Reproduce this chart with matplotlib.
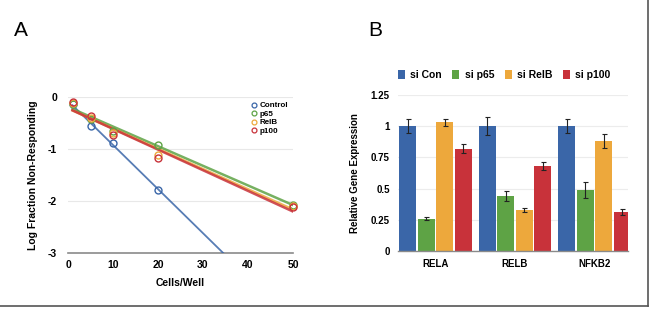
import numpy as np
import matplotlib
matplotlib.use("Agg")
import matplotlib.pyplot as plt
from matplotlib.lines import Line2D

plt.rcParams['font.family'] = ['Liberation Sans', 'DejaVu Sans']

# panel A: limiting dilution
cells = [1, 5, 10, 20, 50]
ctrl_x = [1, 5, 10, 20]
ctrl_y = [-0.14, -0.55, -0.88, -1.78]
p65_y = [-0.14, -0.42, -0.65, -0.92, -2.07]
relb_y = [-0.12, -0.40, -0.70, -1.12, -2.10]
p100_y = [-0.10, -0.37, -0.73, -1.18, -2.12]
series_a = ["Control", "p65", "RelB", "p100"]

# panel B: knockdown qPCR
genes = ["RELA", "RELB", "NFKB2"]
conds = ["si Con", "si p65", "si RelB", "si p100"]
expr = [[1.00, 1.00, 1.00],
        [0.26, 0.44, 0.49],
        [1.03, 0.33, 0.88],
        [0.82, 0.68, 0.31]]
err = [[0.055, 0.07, 0.055],
       [0.015, 0.04, 0.065],
       [0.03, 0.015, 0.055],
       [0.035, 0.03, 0.025]]

colors = ["#3a66a8", "#5ea345", "#eda83c", "#c8323a"]

fig = plt.figure(figsize=(6.57, 3.12), dpi=100)
W, H = 657, 312

def ax_at(l, t, r, b):
    return fig.add_axes([l / W, 1 - b / H, (r - l) / W, (b - t) / H])

# ---- panel A
ax = ax_at(68, 97, 293, 253)
for i, (name, ys) in enumerate(zip(series_a, [ctrl_y, p65_y, relb_y, p100_y])):
    xs = ctrl_x if i == 0 else cells
    ax.plot(xs, ys, "o", mfc="none", mec=colors[i], mew=1.0, ms=5,
            clip_on=False, zorder=4)
    k, c = np.polyfit(xs, ys, 1)
    xe = 50 if i else (-3 - c) / k
    xx = np.array([1, xe])
    ax.plot(xx, k * xx + c, color=colors[i], lw=1.8 if i else 1.3,
            alpha=0.85, zorder=3)

ax.set_xlim(0, 50)
ax.set_ylim(-3, 0)
ax.set_xticks([0, 10, 20, 30, 40, 50])
ax.set_yticks([0, -1, -2, -3])
ax.set_yticklabels(["0", "-1", "-2", "-3"])
ax.grid(axis="y", color="#e8e8e8", lw=0.8)
ax.set_axisbelow(True)
for s in ["top", "right", "left"]:
    ax.spines[s].set_visible(False)
ax.spines["bottom"].set_color("#8a8a8a")
ax.spines["bottom"].set_linewidth(1.2)
ax.tick_params(length=0, labelsize=7.5)
ax.tick_params(axis="x", pad=5)
ax.tick_params(axis="y", pad=8)
for t in ax.get_xticklabels() + ax.get_yticklabels():
    t.set_fontweight("bold")
ax.set_xlabel("Cells/Well", fontsize=7.5, fontweight="bold", labelpad=6)
ax.set_ylabel("Log Fraction Non-Responding", fontsize=7.5, fontweight="bold", labelpad=7)
handles = [Line2D([], [], ls="none", marker="o", mfc="none", mec=colors[i],
                  mew=0.9, ms=3.5) for i in range(4)]
ax.legend(handles, series_a, loc="upper right", bbox_to_anchor=(1.0, 1.0),
          frameon=False, handletextpad=0.2, labelspacing=0.1,
          borderaxespad=0.2, handlelength=1.0,
          prop={"size": 5.8, "weight": "bold"})

# ---- panel B
bx = ax_at(398, 95, 628, 251)
x = np.arange(len(genes))
step = 0.232
bw = 0.212
for i, cond in enumerate(conds):
    pos = x + (i - 1.5) * step
    bx.bar(pos, expr[i], width=bw, color=colors[i], label=cond, zorder=2)
    bx.errorbar(pos, expr[i], yerr=err[i], fmt="none", ecolor="#222222",
                elinewidth=0.8, capsize=1.8, capthick=0.8, zorder=3)
bx.set_xlim(-0.47, 2.42)
bx.set_ylim(0, 1.25)
bx.set_yticks([0, 0.25, 0.5, 0.75, 1, 1.25])
bx.set_yticklabels(["0", "0.25", "0.5", "0.75", "1", "1.25"])
bx.set_xticks(x)
bx.set_xticklabels(genes)
bx.grid(axis="y", color="#ececec", lw=0.8)
bx.set_axisbelow(True)
for s in ["top", "right", "left"]:
    bx.spines[s].set_visible(False)
bx.spines["bottom"].set_color("#8a8a8a")
bx.spines["bottom"].set_linewidth(1.0)
bx.tick_params(length=0, labelsize=7, pad=6)
for t in bx.get_xticklabels() + bx.get_yticklabels():
    t.set_fontweight("bold")
bx.set_ylabel("Relative Gene Expression", fontsize=7, fontweight="bold", labelpad=8)
bx.legend(loc="lower left", bbox_to_anchor=(-0.02, 1.07), ncol=4, frameon=False,
          handlelength=0.7, handleheight=0.9, handletextpad=0.5, columnspacing=1.0,
          borderaxespad=0, prop={"size": 7.5, "weight": "bold"})

# panel letters and frame
fig.text(14 / W, 1 - 30 / H, "A", fontsize=15, va="center", ha="left")
fig.text(368 / W, 1 - 30 / H, "B", fontsize=15, va="center", ha="left")
fig.add_artist(Line2D([0, 648 / W], [1 - 306 / H] * 2, color="#555555", lw=1.2))
fig.add_artist(Line2D([648 / W] * 2, [1, 1 - 306 / H], color="#555555", lw=1.2))

fig.savefig("out.png", dpi=100)
